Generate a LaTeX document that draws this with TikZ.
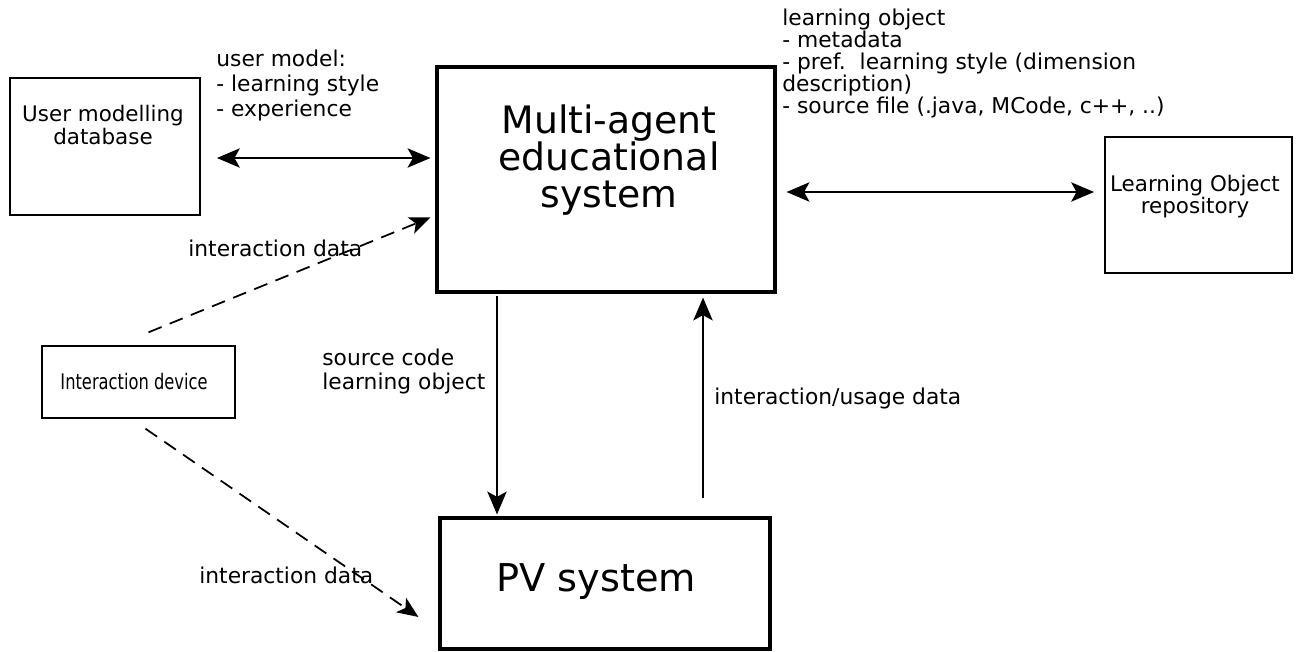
\documentclass[tikz,border=0pt]{standalone}
\usepackage{fontspec}
\setmainfont{DejaVu Sans}
\newfontfamily\narrowfont{DejaVu Sans}[FakeStretch=0.76]
\usetikzlibrary{calc,arrows.meta}
\tikzset{
  box/.style={draw,line width=1.1pt,inner sep=0pt},
  bigbox/.style={draw,line width=1.8pt,inner sep=0pt},
  thinbox/.style={draw,line width=0.8pt,inner sep=0pt},
  note/.style={align=left,inner sep=0pt,font=\fontsize{12.4}{14}\selectfont},
  twoway/.style={line width=1pt,{Stealth[length=13pt,width=11pt,inset=3pt]}-{Stealth[length=13pt,width=11pt,inset=3pt]}},
  flow/.style={line width=1pt,-{Stealth[length=13pt,width=11pt,inset=3pt]}},
  dflow/.style={line width=1pt,dash pattern=on 8pt off 5pt,-{Stealth[length=12pt,width=10pt,inset=3pt]}},
}
\begin{document}
\begin{tikzpicture}[x=0.02cm,y=-0.02cm]
      \useasboundingbox (0,0) rectangle (1296,652);
      \node[box,minimum width=3.8cm,minimum height=2.74cm](umd) at (105,146.5){};
      \node[bigbox,minimum width=6.76cm,minimum height=4.5cm](mas) at (606,179.5){};
      \node[box,minimum width=3.74cm,minimum height=2.72cm](lor) at (1198.5,205){};
      \node[thinbox,minimum width=3.86cm,minimum height=1.44cm](idev) at (138.5,382){};
      \node[bigbox,minimum width=6.6cm,minimum height=2.62cm](pv) at (605,583.5){};
      \node[align=center,font=\fontsize{12.2}{11.5}\selectfont](umdname) at (103,125){User modelling\\database};
      \node[align=center,font=\fontsize{21.5}{21}\selectfont](masname) at (609,160){Multi-agent\\educational\\system};
      \node[align=center,font=\fontsize{12.2}{12.5}\selectfont](lorname) at (1195,197){Learning Object\\repository};
      \node[font=\narrowfont\fontsize{12.2}{12}\selectfont](idevname) at (134,382){Interaction device};
      \node[font=\fontsize{21.8}{21}\selectfont](pvname) at (596,582){PV system};
      \draw[twoway]($(umd.east)+(16,11.5)$)--($(mas.west)+(-5,-21.5)$);
      \draw[twoway]($(mas.east)+(10,12.5)$)--($(lor.west)+(-10,-13)$);
      \draw[flow]($(mas.south)+(-109,2)$)--($(pv.north)+(-108,-2)$);
      \draw[flow]($(pv.north)+(98,-18)$)--($(mas.south)+(97,4)$);
      \draw[dflow]($(idev.north)+(10,-13)$)--($(mas.west)+(-5,38)$);
      \draw[dflow]($(idev.south)+(7,10)$)--($(pv.west)+(-20,33.5)$);
      \node[note,anchor=north west,font=\fontsize{12.4}{14.2}\selectfont](usermodel) at (216,50){user model:\\- learning style\\- experience};
      \node[note,anchor=north west,font=\fontsize{12.4}{12.5}\selectfont](lobject) at (782,9){learning object\\- metadata\\- pref.\ \ learning style (dimension\\description)\\- source file (.java, MCode, c++, ..)};
      \node[note,anchor=west](idata1) at (188,248){interaction data};
      \node[note,anchor=north west,font=\fontsize{12.4}{13.6}\selectfont](srccode) at (322,349){source code\\learning object};
      \node[note,anchor=west](idata2) at (199,575){interaction data};
      \node[note,anchor=west](usage) at (714,398){interaction/usage data};
    \end{tikzpicture}
\end{document}
